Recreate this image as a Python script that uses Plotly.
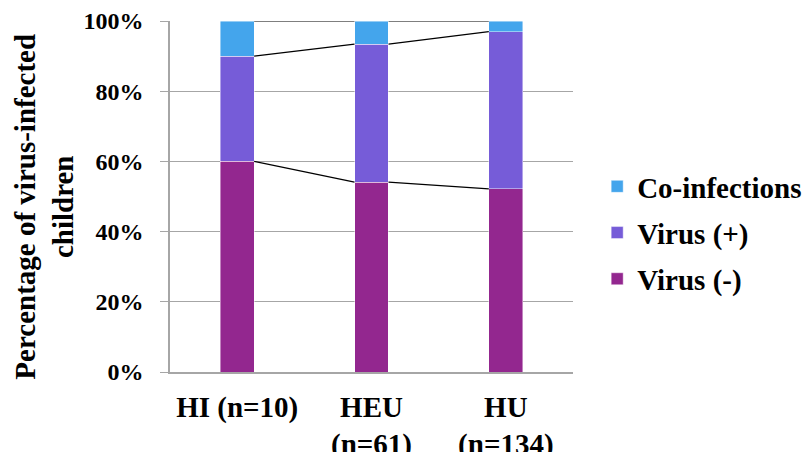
import plotly.graph_objects as go

# Share of virus-infected children by HIV exposure group (stacked to 100%)
groups = ["HI (n=10)", "HEU<br>(n=61)", "HU<br>(n=134)"]
virus_neg = [60.0, 54.1, 52.2]
virus_pos = [30.0, 39.3, 44.8]
co_infections = [10.0, 6.6, 3.0]

series = [
    ("Virus (-)", virus_neg, "#93278F"),
    ("Virus (+)", virus_pos, "#765CD8"),
    ("Co-infections", co_infections, "#44A5EC"),
]

FONT = "Times New Roman, Liberation Serif, Tinos, serif"
BAR_W = 0.253
xs = list(range(len(groups)))

fig = go.Figure()
for k, (name, vals, color) in enumerate(series):
    fig.add_trace(go.Bar(
        x=xs, y=vals, name="<b>" + name + "</b>", width=BAR_W,
        marker=dict(color=color, line=dict(color="rgba(255,255,255,0.55)", width=0.8)),
        legendgroup=name, legendrank=10 - k,
    ))

# Series lines joining the top of each segment between neighbouring bars
cum = [0.0] * len(groups)
for name, vals, color in series:
    cum = [c + v for c, v in zip(cum, vals)]
    lx, ly = [], []
    for i in range(len(groups) - 1):
        lx += [xs[i] + BAR_W / 2, xs[i + 1] - BAR_W / 2, None]
        ly += [cum[i], cum[i + 1], None]
    fig.add_trace(go.Scatter(
        x=lx, y=ly, mode="lines", line=dict(color="black", width=1.2),
        showlegend=False, hoverinfo="skip",
    ))

fig.update_layout(
    width=804, height=452,
    barmode="stack",
    plot_bgcolor="white", paper_bgcolor="white",
    margin=dict(l=170, r=231, t=21, b=80, autoexpand=False),
    font=dict(family=FONT, color="black"),
    legend=dict(
        x=1.060, xanchor="left", y=0.396, yanchor="middle",
        traceorder="grouped", tracegroupgap=5.5,
        font=dict(size=29, family=FONT),
        itemwidth=30,
    ),
    annotations=[dict(
        text="<b>Percentage of virus-infected</b><br><b>children</b>",
        textangle=-90, xref="paper", yref="paper",
        x=-0.3127, y=0.471, xanchor="center", yanchor="middle",
        showarrow=False, font=dict(size=29, family=FONT, color="black"),
    )],
)
fig.update_xaxes(
    range=[-0.5, 2.5], tickvals=xs,
    ticktext=["<b>" + g.replace("<br>", "</b><br><b>") + "</b>" for g in groups],
    showline=True, linecolor="#a6a6a6", linewidth=1.5,
    showgrid=False, ticks="", zeroline=False, automargin=False,
    tickfont=dict(size=29, family=FONT),
    ticklabelstandoff=8,
)
fig.update_yaxes(
    range=[0, 100], dtick=20, ticksuffix="%",
    showline=True, linecolor="#a6a6a6", linewidth=1.5,
    showgrid=True, gridcolor="#a6a6a6", gridwidth=1.2,
    ticks="outside", ticklen=8, tickcolor="#a6a6a6", tickwidth=1.2,
    zeroline=False, automargin=False,
    tickfont=dict(size=24, family=FONT, weight="bold"),
    ticklabelstandoff=12,
)

fig.write_html("out.html")
